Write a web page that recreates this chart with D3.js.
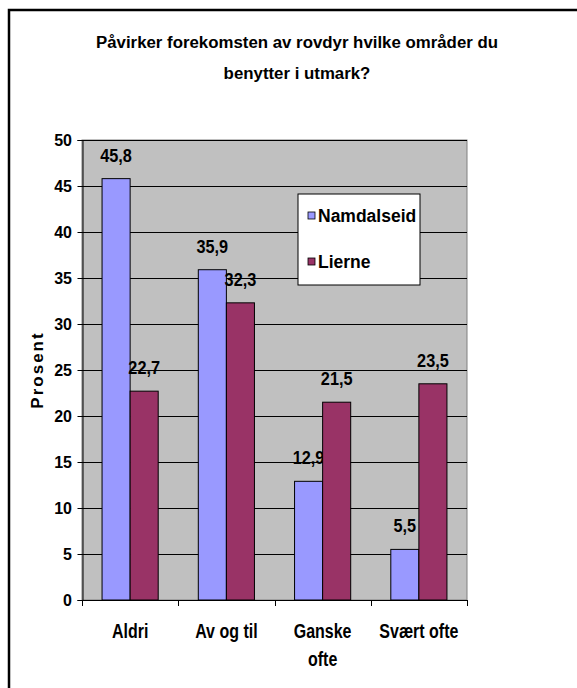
<!DOCTYPE html>
<html><head><meta charset="utf-8">
<script src="https://cdn.jsdelivr.net/npm/d3@7"></script>
<style>
body{margin:0;background:#fff;}
text{font-family:Arial,"Liberation Sans",sans-serif;font-weight:bold;fill:#000;}
</style></head>
<body><svg id="c" width="577" height="688"></svg>
<script>
const categories = [["Aldri"], ["Av og til"], ["Ganske", "ofte"], ["Svært ofte"]];
const seriesNames = ["Namdalseid", "Lierne"];
const namdalseid = [45.8, 35.9, 12.9, 5.5];
const lierne = [22.7, 32.3, 21.5, 23.5];
const yTicks = [0, 5, 10, 15, 20, 25, 30, 35, 40, 45, 50];
const titleLines = ["Påvirker forekomsten av rovdyr hvilke områder du", "benytter i utmark?"];
const yLabel = "Prosent";
const colors = ["#9999FF", "#993366"];

const svg = d3.select("#c");
function label(parent, x, y, txt, size, sx, anchor) {
  const g = parent.append("g").attr("transform", `translate(${x},${y}) scale(${sx},1)`);
  g.append("text").attr("text-anchor", anchor || "middle").style("font-size", size + "px").text(txt);
  return g;
}

// outer frame (extends off canvas on right/bottom)
svg.append("rect").attr("x", 9).attr("y", 10).attr("width", 600).attr("height", 700)
  .attr("fill", "#fff").attr("stroke", "#000").attr("stroke-width", 2.5);

const L = 82, R = 467, T = 140, B = 600;
const y = d3.scaleLinear().domain([0, 50]).range([B, T]);
const catIdx = d3.range(categories.length);
const x0 = d3.scaleBand().domain(catIdx).range([L, R]).paddingInner(40/96).paddingOuter(20/96);
const x1 = d3.scaleBand().domain([0, 1]).range([0, x0.bandwidth()]);
const xEdge = d3.scaleLinear().domain([0, categories.length]).range([L, R]);

svg.append("rect").attr("x", L).attr("y", T).attr("width", R - L).attr("height", B - T)
  .attr("fill", "#C0C0C0").attr("stroke", "#808080").attr("stroke-width", 1);

// gridlines
svg.append("g").selectAll("line").data(yTicks.filter(d => d > 0)).join("line")
  .attr("x1", L).attr("x2", R).attr("y1", d => Math.round(y(d)) + 0.5).attr("y2", d => Math.round(y(d)) + 0.5)
  .attr("stroke", "#000").attr("stroke-width", 1);

// y axis
const ya = svg.append("g").attr("transform", `translate(${L + 0.5},0)`)
  .call(d3.axisLeft(y).tickValues(yTicks).tickSize(5).tickFormat(""));
ya.select(".domain").attr("stroke", "#000");
const tg = svg.append("g");
yTicks.forEach(t => label(tg, 72, y(t) + 5.5, String(t), 16, 1, "end"));

// x axis
svg.append("line").attr("x1", L).attr("x2", R).attr("y1", B + 0.5).attr("y2", B + 0.5).attr("stroke", "#000");
svg.append("g").selectAll("line").data(d3.range(categories.length + 1)).join("line")
  .attr("x1", d => Math.round(xEdge(d)) + 0.5).attr("x2", d => Math.round(xEdge(d)) + 0.5)
  .attr("y1", B).attr("y2", B + 6).attr("stroke", "#000");

// bars
const series = [namdalseid, lierne];
series.forEach((vals, s) => {
  const g = svg.append("g");
  g.selectAll("rect").data(vals).join("rect")
    .attr("x", (d, i) => x0(i) + x1(s))
    .attr("y", d => y(d))
    .attr("width", x1.bandwidth())
    .attr("height", d => B - y(d))
    .attr("fill", colors[s]).attr("stroke", "#000").attr("stroke-width", 1);
  const lg = svg.append("g");
  vals.forEach((d, i) => label(lg, x0(i) + x1(s) + x1.bandwidth() / 2, y(d) - 17,
    d3.format(".1f")(d).replace(".", ","), 18.5, 0.88));
});

// category labels
const cg = svg.append("g");
categories.forEach((c, i) => c.forEach((t, j) =>
  label(cg, x0(i) + x0.bandwidth() / 2, 638 + j * 28, t, 19.5, 0.82)));

// y label
svg.append("text").attr("transform", "translate(43,370) rotate(-90)")
  .attr("text-anchor", "middle").style("font-size", "17px").style("letter-spacing", "2px")
  .text(yLabel);

// title
const ttl = svg.append("g");
titleLines.forEach((t, i) => label(ttl, 297, 48 + i * 31, t, 17, 0.99));

// legend
const lgd = svg.append("g").attr("transform", "translate(298,194)");
lgd.append("rect").attr("width", 122).attr("height", 91).attr("fill", "#fff").attr("stroke", "#000");
seriesNames.forEach((n, i) => {
  const gi = lgd.append("g").attr("transform", `translate(10,${18 + i * 46})`);
  gi.append("rect").attr("width", 7).attr("height", 7).attr("fill", colors[i]).attr("stroke", "#000").attr("stroke-width", 0.8);
  label(gi, 10, 9.5, n, 17.5, 1.0, "start");
});
</script></body></html>
